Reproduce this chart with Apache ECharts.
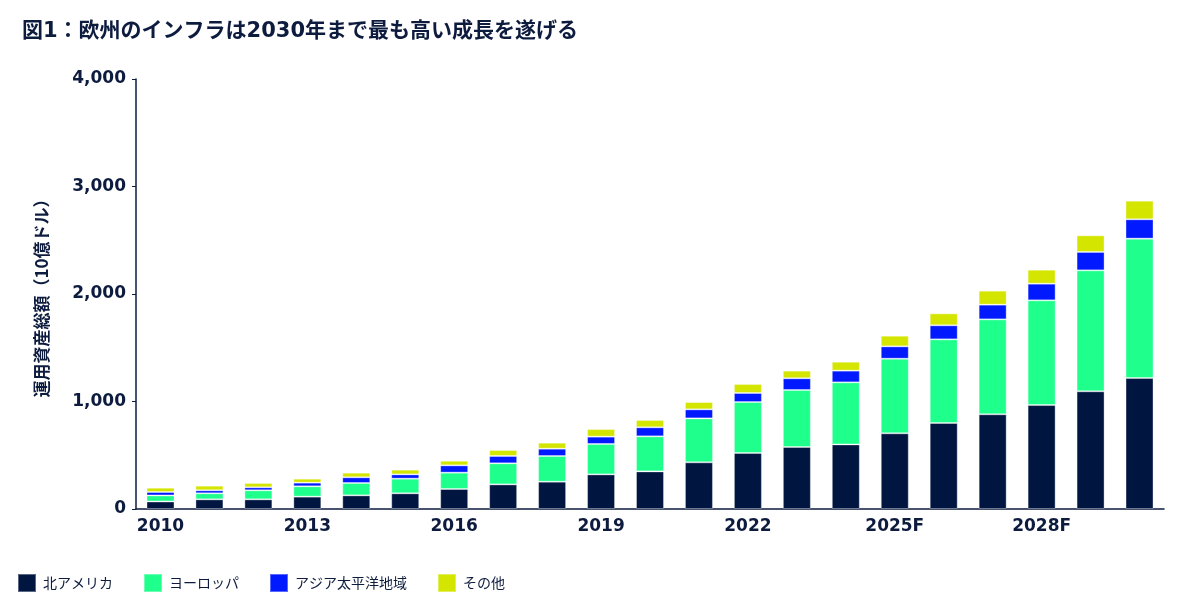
<!DOCTYPE html>
<html>
<head>
<meta charset="utf-8">
<script src="https://cdn.jsdelivr.net/npm/echarts@6/dist/echarts.min.js"></script>
<style>
html,body{margin:0;padding:0;background:#fff;}
#c{width:1200px;height:612px;}
</style>
</head>
<body>
<div id="c"></div>
<script>
const categories = ['2010','2011','2012','2013','2014','2015','2016','2017','2018','2019','2020','2021','2022','2023','2024','2025F','2026F','2027F','2028F','2029F','2030F'];
const northAmerica = [70, 90, 90, 115, 127, 146, 186, 229, 254, 322, 350, 434, 521, 577, 601, 704, 800, 881, 967, 1095, 1219];
const europe = [56, 56, 84, 96, 115, 136, 152, 196, 239, 283, 326, 409, 474, 530, 577, 694, 778, 883, 974, 1125, 1296];
const asiaPacific = [32, 28, 28, 34, 53, 40, 68, 68, 68, 68, 84, 84, 84, 109, 109, 115, 131, 137, 155, 171, 180];
const other = [40, 43, 40, 37, 43, 44, 43, 56, 56, 71, 68, 68, 84, 71, 83, 99, 111, 130, 130, 155, 173];
const yTicks = [0, 1000, 2000, 3000, 4000];

const navy = '#0d1b3e';
const fontLatin = '"DejaVu Sans", Verdana, "Noto Sans CJK JP", sans-serif';
const fontJP = '"Noto Sans CJK JP", "DejaVu Sans", sans-serif';

function mk(name, data, color) {
  return {
    name: name, type: 'bar', stack: 'total', data: data, barWidth: 28,
    itemStyle: { color: color, borderColor: 'rgba(255,255,255,0.35)', borderWidth: 1 },
    emphasis: { disabled: true }
  };
}

const chart = echarts.init(document.getElementById('c'));
chart.setOption({
  animation: false,
  backgroundColor: '#fff',
  title: {
    text: '図1：欧州のインフラは2030年まで最も高い成長を遂げる',
    left: 17, top: 16,
    textStyle: { fontFamily: fontLatin, fontWeight: 'bold', fontSize: 21, color: navy }
  },
  legend: {
    left: 12, top: 568, itemWidth: 18, itemHeight: 18, itemGap: 30,
    icon: 'rect',
    textStyle: { fontFamily: fontJP, fontSize: 14, color: navy, padding: [0, 0, 0, 2] },
    data: ['北アメリカ', 'ヨーロッパ', 'アジア太平洋地域', 'その他']
  },
  grid: { left: 136, right: 36, top: 79, bottom: 103, containLabel: false },
  xAxis: {
    type: 'category', data: categories,
    axisLine: { lineStyle: { color: navy, width: 1.5 } },
    axisTick: { alignWithLabel: true, interval: 2, length: 4, lineStyle: { color: navy } },
    axisLabel: { interval: 2, fontFamily: fontLatin, fontWeight: 'bold', fontSize: 17, color: navy, margin: 9 }
  },
  yAxis: {
    type: 'value', min: yTicks[0], max: yTicks[yTicks.length - 1], interval: 1000,
    name: '運用資産総額（10億ドル）', nameLocation: 'middle', nameGap: 86, nameRotate: 90,
    nameTextStyle: { fontFamily: fontJP, fontWeight: 'bold', fontSize: 17, color: navy },
    axisLine: { show: true, lineStyle: { color: navy, width: 1.5 } },
    axisTick: { show: true, length: 4, lineStyle: { color: navy } },
    splitLine: { show: false },
    axisLabel: {
      fontFamily: fontLatin, fontWeight: 'bold', fontSize: 17, color: navy, margin: 10,
      formatter: v => v.toLocaleString('en-US')
    }
  },
  series: [
    mk('北アメリカ', northAmerica, '#001641'),
    mk('ヨーロッパ', europe, '#1eff8c'),
    mk('アジア太平洋地域', asiaPacific, '#0019ff'),
    mk('その他', other, '#d4e600')
  ]
});
</script>
</body>
</html>
